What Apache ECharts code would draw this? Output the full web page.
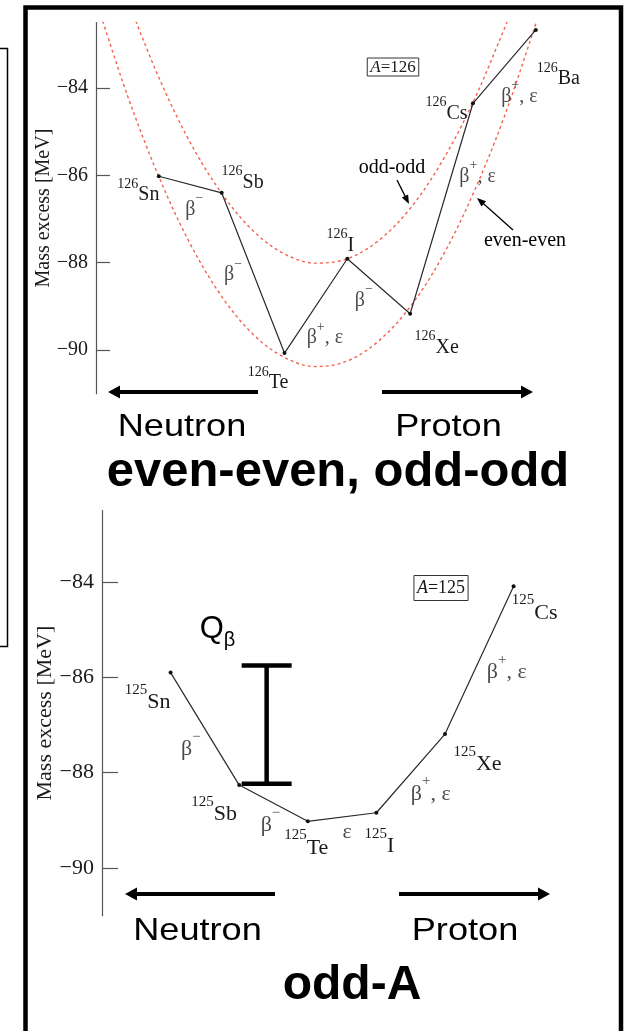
<!DOCTYPE html>
<html>
<head>
<meta charset="utf-8">
<script src="https://cdn.jsdelivr.net/npm/echarts@6/dist/echarts.min.js"></script>
<style>
  html, body { margin: 0; padding: 0; background: #ffffff; }
  #chart { width: 627px; height: 1031px; }
</style>
</head>
<body>
<div id="chart"></div>
<script>
// ---- Isobar chain A = 126 (proton number Z, mass excess in MeV) ----
const chain126Mass = 126;
const chain126Names = ['Sn', 'Sb', 'Te', 'I', 'Xe', 'Cs', 'Ba'];
const chain126Z = [50, 51, 52, 53, 54, 55, 56];
const chain126Excess = [-86.02, -86.40, -90.07, -87.91, -89.17, -84.35, -82.67];
const chain126Decays = ['minus', 'minus', 'plusEc', 'minus', 'plusEc', 'plusEc'];

// ---- Isobar chain A = 125 ----
const chain125Mass = 125;
const chain125Names = ['Sn', 'Sb', 'Te', 'I', 'Xe', 'Cs'];
const chain125Z = [50, 51, 52, 53, 54, 55];
const chain125Excess = [-85.90, -88.26, -89.02, -88.84, -87.19, -84.09];
const chain125Decays = ['minus', 'minus', 'ec', 'plusEc', 'plusEc'];

// ---- Mass parabolas for A = 126 ----
const oddOddZ = [49.6, 50, 50.5, 51, 51.5, 52, 52.5, 53, 53.5, 54, 54.5, 55, 55.5, 55.6];
const oddOddExcess = [-82.34, -83.76, -85.25, -86.41, -87.27, -87.80, -88.01, -87.91, -87.49, -86.76, -85.70, -84.33, -82.64, -82.27];
const evenEvenZ = [49.05, 49.5, 50, 50.5, 51, 51.5, 52, 52.5, 53, 53.5, 54, 54.5, 55, 55.5, 56, 56.05];
const evenEvenExcess = [-82.21, -84.17, -86.03, -87.57, -88.77, -89.64, -90.17, -90.38, -90.25, -89.79, -89.01, -87.89, -86.43, -84.65, -82.53, -82.30];

// ---- Q-value bracket for 125Sn -> 125Sb (Z position, upper, lower level) ----
const qBeta125 = [51.4, -85.75, -88.23];

// ---- Axis ticks ----
const yTickValues = [-90, -88, -86, -84];
const yRange = [-91, -82.5];
const zRange = [49, 56.5];

// ---- Label placement (pixel offsets from the marker / segment midpoint) ----
const offsets126 = [[-20.5, 15], [21, -14], [-16.5, 26], [-7, -17], [26.5, 30], [-26.5, 6], [22.5, 45]];
const decayOffsets126 = [[4, 21], [-20, -2], [9, 28], [-15, 10], [36, -36], [15, 26]];
const offsets125 = [[-23, 25], [-25, 25], [-1.5, 22], [3, 29], [32.5, 26], [21, 22]];
const decayOffsets125 = [[-14, 16], [-3, 18], [5, 11], [20, 16], [27.5, 8]];

const SERIF = 'Liberation Serif';
const SANS = 'Liberation Sans';
const DASH_RED = '#f2634f';

const decayText = {
  minus: '{b|β}{s|−}',
  plusEc: '{b|β}{s|+}{b|, ε}',
  ec: '{b|ε}'
};

function nuclideRich(fs) {
  return {
    m: { fontSize: Math.round(fs * 0.7), lineHeight: Math.round(fs * 0.7), verticalAlign: 'top', fontFamily: SERIF, color: '#1a1a1a' },
    n: { fontSize: fs, lineHeight: Math.round(fs * 1.4), verticalAlign: 'bottom', fontFamily: SERIF, color: '#1a1a1a' }
  };
}
function decayRich(fs) {
  return {
    b: { fontSize: fs, lineHeight: Math.round(fs * 1.4), verticalAlign: 'bottom', fontFamily: SERIF, color: '#1a1a1a' },
    s: { fontSize: Math.round(fs * 0.7), lineHeight: Math.round(fs * 0.7), verticalAlign: 'top', fontFamily: SERIF, color: '#1a1a1a' }
  };
}

function chainSeries(idx, mass, names, zs, excess, offs, fs) {
  return {
    type: 'line', xAxisIndex: idx, yAxisIndex: idx,
    data: zs.map((z, i) => ({
      value: [z, excess[i]],
      label: { offset: offs[i] }
    })),
    symbol: 'circle', symbolSize: 4,
    itemStyle: { color: '#111' },
    lineStyle: { color: '#2a2a2a', width: 1.2 },
    label: {
      show: true, position: 'inside', align: 'center', verticalAlign: 'middle',
      formatter: p => '{m|' + mass + '}{n|' + names[p.dataIndex] + '}',
      rich: nuclideRich(fs)
    },
    z: 5
  };
}

function decaySeries(idx, zs, excess, decays, offs, fs) {
  return {
    type: 'scatter', xAxisIndex: idx, yAxisIndex: idx,
    data: decays.map((d, i) => ({
      value: [(zs[i] + zs[i + 1]) / 2, (excess[i] + excess[i + 1]) / 2],
      label: { offset: offs[i] }
    })),
    symbolSize: 1,
    itemStyle: { color: 'rgba(0,0,0,0)' },
    label: {
      show: true, position: 'inside', align: 'center', verticalAlign: 'middle',
      formatter: p => decayText[decays[p.dataIndex]],
      rich: decayRich(fs)
    },
    z: 6
  };
}

function curveSeries(zs, excess) {
  return {
    type: 'line', xAxisIndex: 0, yAxisIndex: 0,
    data: zs.map((z, i) => [z, excess[i]]),
    smooth: 0.35, symbol: 'none', clip: true,
    lineStyle: { color: DASH_RED, width: 1.4, type: [3, 3] },
    z: 3
  };
}

function yAxis(idx, fs, gap, tickLen) {
  return {
    type: 'value', gridIndex: idx, min: yRange[0], max: yRange[1],
    name: 'Mass excess [MeV]', nameLocation: 'middle', nameRotate: 90, nameGap: gap,
    nameMoveOverlap: false,
    nameTextStyle: { fontFamily: SERIF, fontSize: fs, color: '#1a1a1a' },
    axisLine: { show: true, lineStyle: { color: '#555', width: 1.2 } },
    axisTick: { show: true, inside: true, length: tickLen, customValues: yTickValues, lineStyle: { color: '#555', width: 1.2 } },
    axisLabel: {
      customValues: yTickValues, margin: 8, fontFamily: SERIF, fontSize: fs, color: '#1a1a1a',
      formatter: v => String(v).replace('-', '\u2212')
    },
    splitLine: { show: false }
  };
}

function xAxis(idx) {
  return {
    type: 'value', gridIndex: idx, min: zRange[0], max: zRange[1],
    show: false, splitLine: { show: false }
  };
}

// Arrow decoration: shaft plus filled head at (x2, y2)
function arrow(x1, y1, x2, y2, w, hl, hw) {
  const dx = x2 - x1, dy = y2 - y1, L = Math.hypot(dx, dy);
  const ux = dx / L, uy = dy / L, px = -uy, py = ux;
  const bx = x2 - ux * hl, by = y2 - uy * hl;
  return {
    type: 'group', children: [
      { type: 'line', shape: { x1: x1, y1: y1, x2: bx + ux, y2: by + uy }, style: { stroke: '#000', lineWidth: w } },
      { type: 'polygon', shape: { points: [[x2, y2], [bx + px * hw, by + py * hw], [bx - px * hw, by - py * hw]] }, style: { fill: '#000' } }
    ]
  };
}

function plainText(x, y, text, fs, family, weight, scaleX) {
  return {
    type: 'text', x: x, y: y, scaleX: scaleX || 1,
    style: { text: text, fontSize: fs, fontFamily: family, fontWeight: weight || 'normal', fill: '#000', align: 'center', verticalAlign: 'middle' }
  };
}

function massBox(x, y, mass, fs, pad) {
  return {
    type: 'text', x: x, y: y,
    style: {
      text: '{i|A}{r|=' + mass + '}', align: 'center', verticalAlign: 'middle',
      borderColor: '#333', borderWidth: 1, padding: pad,
      rich: {
        i: { fontFamily: SERIF, fontStyle: 'italic', fontSize: fs, fill: '#1a1a1a' },
        r: { fontFamily: SERIF, fontSize: fs, fill: '#1a1a1a' }
      }
    }
  };
}

const chart = echarts.init(document.getElementById('chart'), null, { renderer: 'canvas' });

chart.setOption({
  animation: false,
  backgroundColor: '#ffffff',
  grid: [
    { left: 96, top: 22.5, width: 7.5 * 62.83, height: 371.2 },
    { left: 102, top: 510.5, width: 7.5 * 68.6, height: 405.2 }
  ],
  xAxis: [xAxis(0), xAxis(1)],
  yAxis: [yAxis(0, 20, 42, 14), yAxis(1, 22, 46, 16)],
  series: [
    curveSeries(oddOddZ, oddOddExcess),
    curveSeries(evenEvenZ, evenEvenExcess),
    chainSeries(0, chain126Mass, chain126Names, chain126Z, chain126Excess, offsets126, 20),
    decaySeries(0, chain126Z, chain126Excess, chain126Decays, decayOffsets126, 20),
    chainSeries(1, chain125Mass, chain125Names, chain125Z, chain125Excess, offsets125, 22),
    decaySeries(1, chain125Z, chain125Excess, chain125Decays, decayOffsets125, 22),
    {
      type: 'custom', xAxisIndex: 1, yAxisIndex: 1,
      data: [qBeta125],
      renderItem: (params, api) => {
        const top = api.coord([api.value(0), api.value(1)]);
        const bot = api.coord([api.value(0), api.value(2)]);
        const hw = 25;
        const st = { stroke: '#000', lineWidth: 4.5 };
        return {
          type: 'group', children: [
            { type: 'line', shape: { x1: top[0], y1: top[1], x2: bot[0], y2: bot[1] }, style: st },
            { type: 'line', shape: { x1: top[0] - hw, y1: top[1], x2: top[0] + hw, y2: top[1] }, style: st },
            { type: 'line', shape: { x1: bot[0] - hw, y1: bot[1], x2: bot[0] + hw, y2: bot[1] }, style: st }
          ]
        };
      },
      z: 4
    }
  ],
  graphic: [
    // frames
    { type: 'polyline', shape: { points: [[-2, 48.5], [7.5, 48.5], [7.5, 646.5], [-2, 646.5]] }, style: { stroke: '#000', fill: null, lineWidth: 1.5 } },
    { type: 'polyline', shape: { points: [[25.5, 1040], [25.5, 7.5], [621, 7.5], [621, 1040]] }, style: { stroke: '#000', fill: null, lineWidth: 4.5 } },

    // upper panel annotations
    massBox(393, 67, chain126Mass, 17, [1, 3, 0, 3]),
    plainText(392, 168, 'odd-odd', 20, SERIF),
    arrow(397, 180, 409, 204, 1.3, 9, 3.5),
    plainText(525, 241, 'even-even', 20, SERIF),
    arrow(513, 230, 477, 198, 1.3, 9, 3.5),
    arrow(258, 392, 108, 392, 4, 12, 6.5),
    arrow(382, 392, 533, 392, 4, 12, 6.5),
    plainText(182, 427, 'Neutron', 32, SANS, 'normal', 1.13),
    plainText(448.5, 427, 'Proton', 32, SANS, 'normal', 1.13),
    plainText(338, 473, 'even-even, odd-odd', 48, SANS, 'bold', 1.02),

    // lower panel annotations
    massBox(441, 588, chain125Mass, 18, [4, 3, 3, 3]),
    {
      type: 'text', x: 217.5, y: 632,
      style: {
        text: '{q|Q}{b|β}', align: 'center', verticalAlign: 'middle',
        rich: {
          q: { fontFamily: SANS, fontSize: 31, lineHeight: 36, verticalAlign: 'top', fill: '#000' },
          b: { fontFamily: SANS, fontSize: 20, lineHeight: 20, verticalAlign: 'bottom', fill: '#000' }
        }
      }
    },
    arrow(275, 894, 125, 894, 4, 12, 6.5),
    arrow(399, 894, 550, 894, 4, 12, 6.5),
    plainText(197.5, 931, 'Neutron', 32, SANS, 'normal', 1.13),
    plainText(465, 931, 'Proton', 32, SANS, 'normal', 1.13),
    plainText(352, 986, 'odd-A', 48, SANS, 'bold')
  ]
});
</script>
</body>
</html>
